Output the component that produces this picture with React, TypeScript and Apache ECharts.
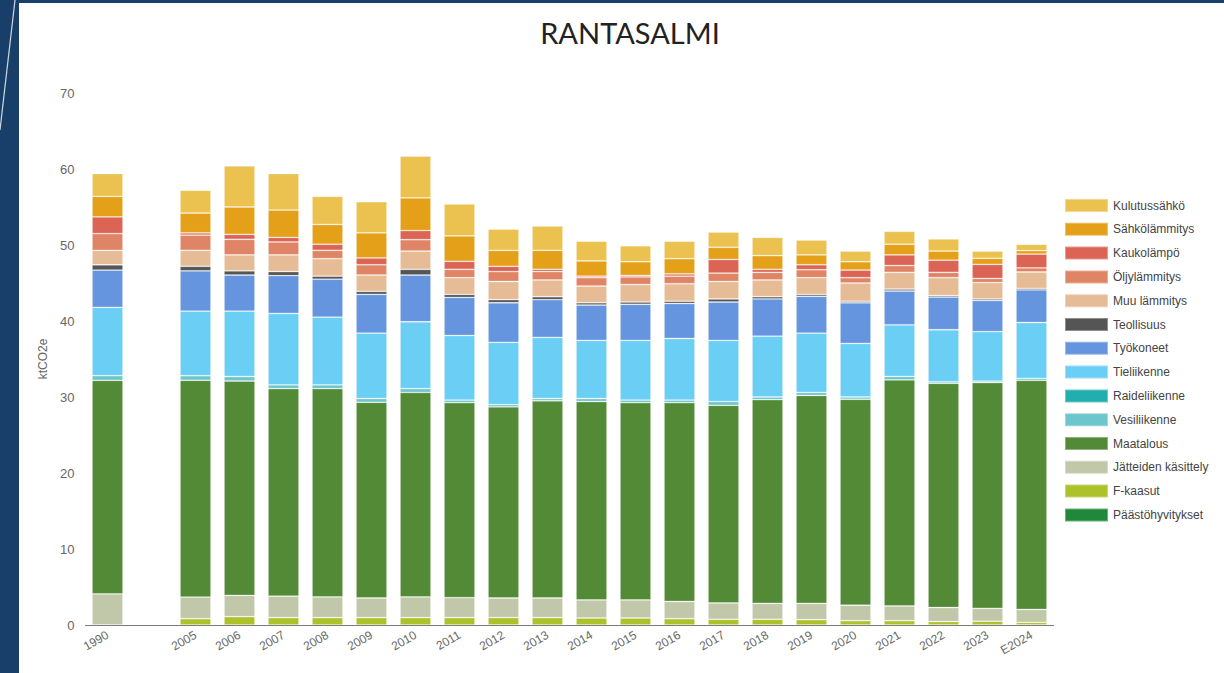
import React, { useEffect, useRef } from "react";
import * as echarts from "echarts";

const categories = ["1990", "", "2005", "2006", "2007", "2008", "2009", "2010", "2011", "2012", "2013", "2014", "2015", "2016", "2017", "2018", "2019", "2020", "2021", "2022", "2023", "E2024"];

// values per category (index 1 is the empty gap)
const fKaasut = [null, null, 0.83, 1.1, 0.97, 0.97, 0.97, 0.97, 0.97, 0.97, 0.97, 0.92, 0.92, 0.83, 0.75, 0.75, 0.7, 0.57, 0.57, 0.45, 0.5, 0.35];
const jatteet = [4.1, null, 2.85, 2.8, 2.83, 2.73, 2.58, 2.73, 2.63, 2.58, 2.58, 2.38, 2.38, 2.27, 2.15, 2.1, 2.15, 2.03, 1.93, 1.85, 1.7, 1.7];
const maatalous = [28.1, null, 28.52, 28.2, 27.3, 27.4, 25.75, 26.9, 25.65, 25.15, 25.95, 26.1, 25.95, 26.15, 26.0, 26.8, 27.35, 27.1, 29.75, 29.5, 29.7, 30.15];
const vesiliikenne = [0.6, null, 0.6, 0.6, 0.5, 0.5, 0.5, 0.5, 0.35, 0.3, 0.3, 0.4, 0.35, 0.35, 0.5, 0.35, 0.4, 0.3, 0.45, 0.2, 0.2, 0.25];
const raideliikenne = [null, null, null, null, null, null, null, null, null, null, null, null, null, null, null, null, null, null, null, null, null, null];
const tieliikenne = [9.0, null, 8.5, 8.6, 9.4, 8.9, 8.6, 8.8, 8.5, 8.2, 8.05, 7.65, 7.85, 8.1, 8.05, 8.0, 7.8, 7.05, 6.8, 6.85, 6.5, 7.35];
const tyokoneet = [4.9, null, 5.3, 4.75, 4.97, 5.0, 5.1, 6.15, 5.0, 5.2, 4.95, 4.65, 4.75, 4.6, 5.05, 4.9, 4.85, 5.35, 4.45, 4.3, 4.1, 4.3];
const teollisuus = [0.7, null, 0.6, 0.55, 0.53, 0.4, 0.4, 0.75, 0.4, 0.4, 0.4, 0.3, 0.3, 0.3, 0.4, 0.3, 0.25, 0.2, 0.25, 0.2, 0.2, 0.2];
const muuLammitys = [1.9, null, 2.1, 2.1, 2.2, 2.3, 2.15, 2.4, 2.2, 2.4, 2.2, 2.2, 2.3, 2.3, 2.3, 2.2, 2.2, 2.4, 2.2, 2.35, 2.15, 2.15];
const oljylammitys = [2.2, null, 2.0, 2.05, 1.7, 1.1, 1.35, 1.5, 1.1, 1.3, 1.1, 1.1, 1.0, 1.0, 1.1, 1.0, 1.05, 0.7, 0.9, 0.7, 0.55, 0.55];
const kaukolampo = [2.2, null, 0.3, 0.65, 0.6, 0.8, 0.9, 1.2, 1.05, 0.7, 0.3, 0.2, 0.2, 0.3, 1.8, 0.4, 0.65, 1.0, 1.4, 1.6, 1.85, 1.8];
const sahkolammitys = [2.7, null, 2.6, 3.6, 3.6, 2.6, 3.3, 4.3, 3.35, 2.1, 2.5, 2.0, 1.8, 2.0, 1.6, 1.8, 1.3, 1.1, 1.4, 1.2, 0.8, 0.45];
const kulutussahko = [3.0, null, 3.0, 5.4, 4.8, 3.7, 4.1, 5.5, 4.2, 2.8, 3.2, 2.6, 2.1, 2.3, 2.0, 2.4, 1.95, 1.4, 1.7, 1.6, 0.95, 0.85];
const paastohyvitykset = [null, null, null, null, null, null, null, null, null, null, null, null, null, null, null, null, null, null, null, null, null, null];

const yTicks = [0, 10, 20, 30, 40, 50, 60, 70];

// stack order from bottom to top
const seriesDefs = [
  { name: "F-kaasut", data: fKaasut, color: "#adc22a" },
  { name: "Jätteiden käsittely", data: jatteet, color: "#c1c8aa" },
  { name: "Maatalous", data: maatalous, color: "#528a36" },
  { name: "Vesiliikenne", data: vesiliikenne, color: "#6cc6cc" },
  { name: "Raideliikenne", data: raideliikenne, color: "#22adae" },
  { name: "Tieliikenne", data: tieliikenne, color: "#6bcff5" },
  { name: "Työkoneet", data: tyokoneet, color: "#6595de" },
  { name: "Teollisuus", data: teollisuus, color: "#555555" },
  { name: "Muu lämmitys", data: muuLammitys, color: "#e5bc95" },
  { name: "Öljylämmitys", data: oljylammitys, color: "#df8566" },
  { name: "Kaukolämpö", data: kaukolampo, color: "#dc6454" },
  { name: "Sähkölämmitys", data: sahkolammitys, color: "#e4a019" },
  { name: "Kulutussähkö", data: kulutussahko, color: "#ebc250" },
  { name: "Päästöhyvitykset", data: paastohyvitykset, color: "#20883a" },
];

const legendOrder = ["Kulutussähkö", "Sähkölämmitys", "Kaukolämpö", "Öljylämmitys", "Muu lämmitys", "Teollisuus", "Työkoneet", "Tieliikenne", "Raideliikenne", "Vesiliikenne", "Maatalous", "Jätteiden käsittely", "F-kaasut", "Päästöhyvitykset"];

export default function App() {
  const ref = useRef<HTMLDivElement>(null);
  useEffect(() => {
    if (!ref.current) return;
    const chart = echarts.init(ref.current, null, { renderer: "svg" });
    const frame = "#173f69";
    chart.setOption({
      animation: false,
      backgroundColor: "#ffffff",
      title: {
        text: "RANTASALMI",
        left: 625,
        top: 13,
        textAlign: "center",
        textStyle: { fontFamily: "Lato", fontSize: 29, fontWeight: "normal", color: "#222222" },
      },
      legend: {
        orient: "vertical",
        left: 1064,
        top: 198,
        padding: 0,
        itemWidth: 43,
        itemHeight: 13,
        itemGap: 8.8,
        data: legendOrder,
        icon: "rect",
        textStyle: { fontFamily: "Liberation Sans, Arial", fontSize: 12, color: "#444444" },
        selectedMode: false,
      },
      grid: { left: 85.5, width: 968, top: 93, bottom: 48 },
      xAxis: {
        type: "category",
        data: categories,
        axisTick: { show: false },
        axisLine: { lineStyle: { color: "#7a7a7a", width: 1 } },
        axisLabel: {
          interval: 0,
          rotate: 30,
          margin: 9,
          fontFamily: "Liberation Sans, Arial",
          fontSize: 12,
          color: "#666666",
        },
      },
      yAxis: {
        type: "value",
        min: yTicks[0],
        max: yTicks[yTicks.length - 1],
        interval: 10,
        name: "ktCO2e",
        nameLocation: "middle",
        nameGap: 36,
        nameRotate: 90,
        nameTextStyle: { fontFamily: "Liberation Sans, Arial", fontSize: 12, color: "#666666" },
        splitLine: { show: false },
        axisLine: { show: false },
        axisTick: { show: false },
        axisLabel: { fontFamily: "Liberation Sans, Arial", fontSize: 13, color: "#666666", margin: 11 },
      },
      series: seriesDefs.map((s) => ({
        name: s.name,
        type: "bar",
        stack: "total",
        barWidth: 31,
        data: s.data,
        itemStyle: { color: s.color, borderColor: "rgba(255,255,255,0.35)", borderWidth: 0.8 },
      })),
      graphic: [
        { type: "rect", shape: { x: 0, y: 0, width: 1224, height: 3 }, style: { fill: frame }, z: 100 },
        { type: "rect", shape: { x: 0, y: 0, width: 19, height: 673 }, style: { fill: frame }, z: 100 },
        { type: "line", shape: { x1: 15, y1: 0, x2: 0, y2: 130 }, style: { stroke: "rgba(255,255,255,0.8)", lineWidth: 1.2 }, z: 101 },
      ],
    });
    return () => chart.dispose();
  }, []);
  return <div ref={ref} style={{ position: "absolute", left: 0, top: 0, width: 1224, height: 673 }} />;
}
